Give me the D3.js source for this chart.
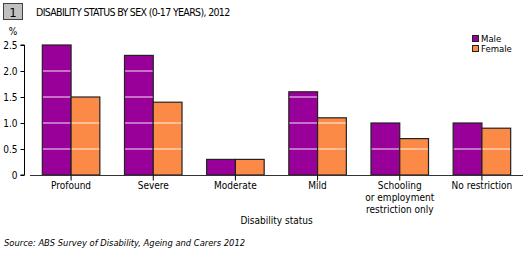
<!DOCTYPE html>
<html>
<head>
<meta charset="utf-8">
<script src="https://cdn.jsdelivr.net/npm/d3@7"></script>
<style>
  body { margin: 0; background: #fff; }
  text { font-family: "DejaVu Sans Condensed", "DejaVu Sans", sans-serif; fill: #000; }
</style>
</head>
<body>
<div id="chart"></div>
<script>
const width = 529
const height = 253
const margin = ({top: 45, right: 6, bottom: 78, left: 30})

// data
const categories = ["Profound", "Severe", "Moderate", "Mild", "Schooling or employment restriction only", "No restriction"]
const catLines = [["Profound"], ["Severe"], ["Moderate"], ["Mild"], ["Schooling", "or employment", "restriction only"], ["No restriction"]]
const series = ["Male", "Female"]
const male = [2.5, 2.3, 0.3, 1.6, 1.0, 1.0]
const female = [1.5, 1.4, 0.3, 1.1, 0.7, 0.9]
const yTicks = [0, 0.5, 1.0, 1.5, 2.0, 2.5]
const colors = ["#990099", "#fb8a47"]

const data = categories.map((c, i) => ({cat: c, Male: male[i], Female: female[i]}))

const svg = d3.select("#chart")
  .append("svg")
  .attr("width", width)
  .attr("height", height)

const x = d3.scaleBand()
  .domain(categories)
  .range([margin.left, width - margin.right])
  .paddingInner(0.3)
  .paddingOuter(0.15)

const xs = d3.scaleBand()
  .domain(series)
  .range([0, x.bandwidth()])

const y = d3.scaleLinear()
  .domain([0, 2.5])
  .range([height - margin.bottom, margin.top])

// title box
svg.append("rect")
  .attr("x", 3.5).attr("y", 3.5).attr("width", 19).attr("height", 16)
  .attr("fill", "#c0c0c0").attr("stroke", "#404040")
svg.append("text")
  .attr("x", 13).attr("y", 17)
  .attr("text-anchor", "middle")
  .attr("font-size", 13)
  .text("1")
svg.append("text")
  .attr("x", 36).attr("y", 16)
  .attr("font-size", 10.5)
  .attr("letter-spacing", -0.65)
  .text("DISABILITY STATUS BY SEX (0-17 YEARS), 2012")

// bars
const groups = svg.append("g")
  .selectAll("g")
  .data(data)
  .join("g")
  .attr("transform", d => `translate(${x(d.cat)},0)`)

const barData = d => series.map((s, i) => ({key: s, value: d[s], i: i}))

const bars = groups.selectAll("g")
  .data(barData)
  .join("g")

bars.append("rect")
  .attr("x", d => xs(d.key))
  .attr("y", d => y(d.value))
  .attr("width", xs.bandwidth())
  .attr("height", d => y(0) - y(d.value))
  .attr("fill", d => colors[d.i])
  .attr("stroke", "#222")
  .attr("stroke-width", 1.2)

// gridlines only show through the bars (background is white)
bars.selectAll("line")
  .data(d => yTicks.filter(t => t > 0 && t < d.value - 0.05).map(t => ({t: t, key: d.key})))
  .join("line")
  .attr("x1", d => xs(d.key) + 0.6)
  .attr("x2", d => xs(d.key) + xs.bandwidth() - 0.6)
  .attr("y1", d => y(d.t))
  .attr("y2", d => y(d.t))
  .attr("stroke", "#fff")
  .attr("stroke-opacity", 0.75)
  .attr("stroke-width", 1.2)

// y axis
const yAxis = g => g
  .attr("transform", `translate(24.5,0)`)
  .call(d3.axisLeft(y).tickValues(yTicks).tickSize(4).tickPadding(3)
    .tickFormat(d => d === 0 ? "0" : d3.format(".1f")(d)))
  .call(g => g.select(".domain").attr("stroke", "#000").attr("d", `M-4,${y(2.5)}H0V${y(0)}H-4`))
  .call(g => g.selectAll("text").attr("font-size", 10).attr("font-family", "DejaVu Sans Condensed, DejaVu Sans"))

svg.append("g").call(yAxis)

svg.append("text")
  .attr("x", 13).attr("y", 35)
  .attr("text-anchor", "middle")
  .attr("font-size", 10)
  .text("%")

// x axis
const xAxis = g => g
  .attr("transform", `translate(0,${y(0) + 0.5})`)
  .call(d3.axisBottom(x).tickSize(5).tickFormat(""))
  .call(g => g.select(".domain").attr("stroke", "#333").attr("d", `M${margin.left},0H${width - margin.right}`))

svg.append("g").call(xAxis)

const labels = svg.append("g")
  .selectAll("text")
  .data(categories)
  .join("text")
  .attr("x", d => x(d) + x.bandwidth() / 2)
  .attr("y", 189)
  .attr("text-anchor", "middle")
  .attr("font-size", 10)

labels.selectAll("tspan")
  .data((d, i) => catLines[i])
  .join("tspan")
  .attr("x", function() { return this.parentNode.getAttribute("x") })
  .attr("dy", (d, i) => i === 0 ? 0 : 12)
  .text(d => d)

svg.append("text")
  .attr("x", (margin.left + width - margin.right) / 2)
  .attr("y", 224)
  .attr("text-anchor", "middle")
  .attr("font-size", 10)
  .text("Disability status")

// legend
const legend = svg.append("g")
  .selectAll("g")
  .data(series)
  .join("g")
  .attr("transform", (d, i) => `translate(472,${35 + i * 10})`)

legend.append("rect")
  .attr("x", 0.5).attr("y", 0.5)
  .attr("width", 6).attr("height", 6)
  .attr("fill", (d, i) => colors[i])
  .attr("stroke", "#222")

legend.append("text")
  .attr("x", 9).attr("y", 7)
  .attr("font-size", 9.5)
  .text(d => d)

// source
svg.append("text")
  .attr("x", 4).attr("y", 246)
  .attr("font-size", 9.3)
  .attr("font-style", "italic")
  .text("Source: ABS Survey of Disability, Ageing and Carers 2012")
</script>
</body>
</html>
